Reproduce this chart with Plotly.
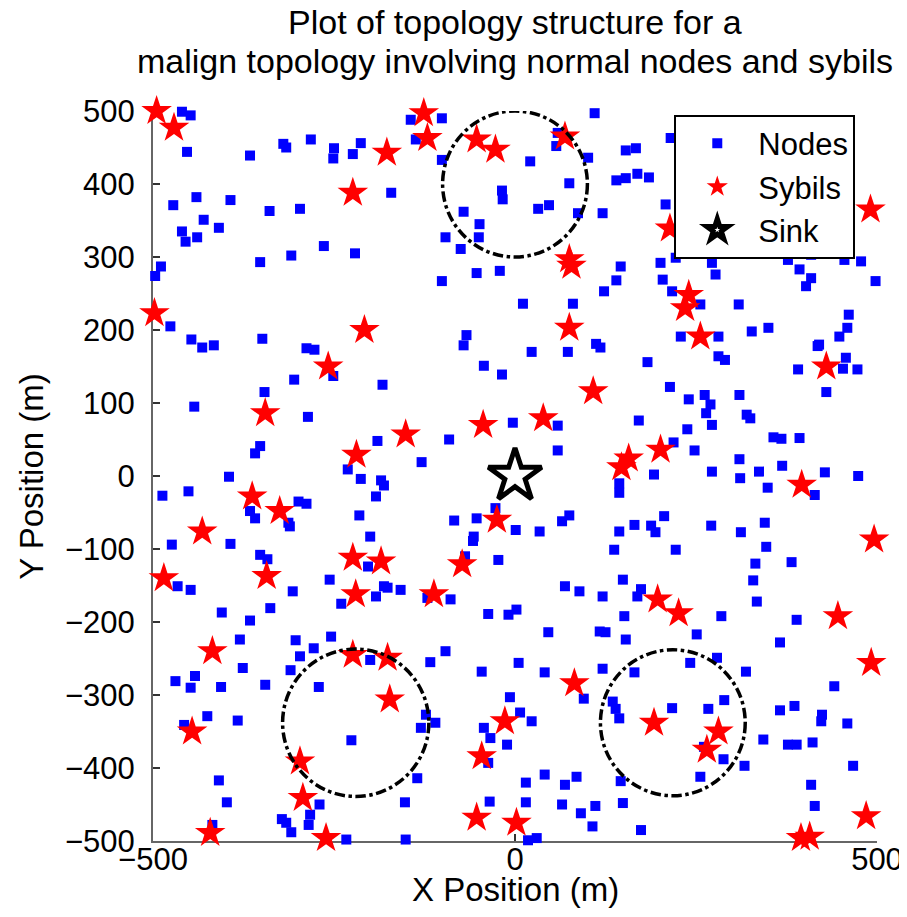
import plotly.graph_objects as go

# ---- data ----
node_x = [-460, -448, -453, -366, -320, -316, -282, -250, -251, -213, -224, -171, -472, -440, -393, -430,
          -460, -439, -455, -409, -339, -297, -352, -309, -264, -221, -489, -497, -476, -447, -432, -416,
          -349, -288, -277,
          -144, -101, -137, 110, 59, 57, 153, 21, 101, -101, 75, 140, 153, -18, -17, 32, 47, 87, 121, -71,
          -49, -50, -96, -75, -53, -21, -101, 146, 140, 123, 11, 80, -67, -71, 112, 23, 73, 118,
          215, 167, 169, 185, 208, 201, 222, 204, 217, 272, 277, 377, 393, 409, 402, 409, 455, 478, 498,
          256, 309, 229, 281, 327, 350, 420, 448, 459, 461,
          -305, -251, -183, -346, -443, -286, -352, -359, -190, -231, -213, -185, -181, -192, -395, -487,
          -451, -299, -288, -366, -359, -313, -311, -215, -200, -474, -393, -352, -342, -203, -256, -307,
          -466, -448, -181,
          -43, -18, -3, 59, -91, 59, -129, 144, 144, -27, -84, -53, -57, -58, 1, 34, 65, 75, 144, 137,
          -69, -23, 69, 89, -176, -158, 149,
          418, 457, 453, 473, 391, 430, 183, 281, 290, 214, 240, 262, 270, 264, 272, 310, 320, 325, 171,
          238, 219, 248, 357, 368, 393, 310, 272, 192, 311, 337, 369, 349, 428, 474, 414, 165, 188, 194,
          206, 271, 312, 345, 222, 347, 332, 382, 329, 174,
          -192, -240, -405, -338, -366, -380, -303, -254, -278, -297, -310, -376, -469, -442, -448, -406,
          -345, -271, -200, -425, -457, -383, -226, -409, -398, -270, -322, -316, -309, -283, -285, -418,
          -233,
          -89, -121, -37, -9, 2, 121, 46, 117, 125, 151, 153, -96, -117, -46, 5, 41, 121, 95, -7, 7, 23,
          -123, -110, -130, -43, -34, -11, -37, 135, 139, 144, -135, 41, 15, 69, 85, -152, -35, 15, 65,
          111, 91, 107, 146, 149, -151, 18, 30,
          169, 334, 285, 389, 251, 366, 242, 279, 165, 319, 441, 217, 267, 289, 366, 386, 424, 423, 459,
          343, 377, 389, 411, 288, 317, 256, 409, 414, 467, 174, 261]
node_y = [499, 494, 444, 439, 455, 450, 461, 449, 435, 456, 441, 388, 371, 382, 378, 351,
          335, 327, 321, 340, 363, 366, 293, 302, 315, 305, 287, 274, 205, 187, 176, 179,
          188, 175, 173,
          488, 490, 461, 497, 470, 452, 446, 431, 436, 433, 401, 405, 408, 391, 379, 366, 371, 360, 360, 362,
          345, 327, 327, 311, 278, 281, 267, 287, 268, 253, 236, 236, 193, 179, 181, 170, 170, 176,
          463, 449, 414, 409, 372, 292, 299, 269, 253, 292, 276, 296, 283, 271, 260, 303, 296, 294, 267,
          235, 235, 191, 191, 198, 203, 180, 191, 203, 221,
          132, 137, 125, 115, 95, 81, 41, 31, 48, 9, -4, -6, -13, -28, -1, -27,
          -21, -35, -38, -48, -58, -64, -69, -54, -83, -94, -93, -108, -114, -124, -142, -158,
          -151, -156, -151,
          151, 139, 73, 69, 50, 35, 19, -10, -23, -44, -61, -58, -83, -89, -74, -76, -62, -54, -76, -101,
          -110, -115, -151, -158, -153, -156, -142,
          178, 162, 147, 146, 146, 115, 156, 164, 159, 122, 105, 111, 98, 86, 70, 111, 84, 79, 76,
          64, 46, 35, 53, 51, 52, 23, 6, 2, -3, 6, 14, -16, 5, 0, -26, -67, -68, -77,
          -55, -68, -77, -64, -101, -97, -120, -118, -143, -155,
          -165, -175, -187, -181, -198, -224, -225, -220, -236, -247, -266, -263, -281, -274, -290, -289,
          -286, -289, -252, -329, -341, -335, -362, -417, -447, -450, -470, -475, -488, -464, -478, -478,
          -498,
          -169, -167, -189, -190, -183, -165, -214, -213, -214, -192, -224, -240, -255, -268, -256, -269, -264, -305, -303, -324, -336,
          -327, -338, -345, -345, -359, -368, -393, -309, -319, -332, -414, -409, -420, -423, -412, -447, -446, -447, -450,
          -452, -462, -480, -418, -448, -498, -499, -496,
          -165, -172, -192, -197, -217, -228, -256, -249, -269, -268, -288, -318, -319, -307, -321, -315, -327, -336, -339,
          -361, -368, -368, -365, -388, -397, -412, -423, -452, -397, -485, -371]

sybil_x = [-495, -471, -177, -224, -498, -208, -126, -121, -53, -27, 69, 75, 78, 75, 240, 235, 256, 491, 214,
           -258, -345, -219, -363, -325, -432, -224, -185, -485, -343, -220, 108, 39, -44, -151, -25, -73,
           -112, 147, 157, 430, 201, 396, 496, 197, 226, -418, -446, -224, -176, -173, -297, -293, -421,
           -261, -14, -46, -53, 2, 82, 446, 492, 192, 281, 265, 485, 395, 407]
sybil_y = [500, 477, 443, 388, 223, 200, 497, 463, 461, 447, 465, 297, 288, 203, 248, 230, 191, 365, 339,
           150, 86, 29, -28, -48, -76, -112, -117, -140, -137, -162, 116, 79, 70, 57, -60, -121,
           -162, 12, 24, 150, 36, -12, -87, -169, -188, -240, -350, -245, -249, -306, -391, -441, -489,
           -496, -336, -384, -468, -475, -284, -192, -256, -338, -350, -375, -466, -496, -494]

sink_x = [0]
sink_y = [0]

circle_cx = [0, -220, 218]
circle_cy = [400, -338, -338]
circle_r = [100, 101, 100]

x_ticks = [-500, 0, 500]
y_ticks = [-500, -400, -300, -200, -100, 0, 100, 200, 300, 400, 500]

title_lines = ["Plot of topology structure for a",
               "malign topology involving normal nodes and sybils"]
x_title = "X Position (m)"
y_title = "Y Position (m)"

FONT = "Liberation Sans, Arial, Helvetica, sans-serif"
PX_PER_UNIT_Y = 730.0
PX_PER_UNIT_X = 729.0

fig = go.Figure()
fig.add_trace(go.Scatter(x=node_x, y=node_y, mode="markers", name="Nodes",
                         marker=dict(symbol="square", size=10, color="#0000ff"),
                         cliponaxis=False))
fig.add_trace(go.Scatter(x=sybil_x, y=sybil_y, mode="markers", name="Sybils",
                         marker=dict(symbol="star", size=23, color="#ff0000"),
                         cliponaxis=False))
fig.add_trace(go.Scatter(x=sink_x, y=sink_y, mode="markers", name="Sink",
                         marker=dict(symbol="star", size=40, color="white",
                                     line=dict(color="black", width=5)),
                         cliponaxis=False))

shapes = []
for cx, cy, r in zip(circle_cx, circle_cy, circle_r):
    shapes.append(dict(type="circle", xref="x", yref="y",
                       x0=cx - r, x1=cx + r, y0=cy - r, y1=cy + r,
                       line=dict(color="black", width=3.5, dash="dashdot"),
                       layer="above"))

annotations = [
    dict(text=title_lines[0], xref="paper", yref="paper", x=0.5, y=1.0 + (103 - 14) / PX_PER_UNIT_Y,
         xanchor="center", yanchor="middle", showarrow=False, font=dict(size=34)),
    dict(text=title_lines[1], xref="paper", yref="paper", x=0.5, y=1.0 + (103 - 53) / PX_PER_UNIT_Y,
         xanchor="center", yanchor="middle", showarrow=False, font=dict(size=34)),
    dict(text=x_title, xref="paper", yref="paper", x=0.5, y=-(881 - 833) / PX_PER_UNIT_Y,
         xanchor="center", yanchor="middle", showarrow=False, font=dict(size=33)),
    dict(text=y_title, xref="paper", yref="paper", x=-(145 - 22) / PX_PER_UNIT_X, y=0.5,
         xanchor="center", yanchor="middle", showarrow=False, textangle=-90, font=dict(size=33)),
]

fig.update_layout(
    width=907, height=917,
    margin=dict(l=145, r=33, t=103, b=84),
    paper_bgcolor="white", plot_bgcolor="white",
    font=dict(family=FONT, size=32, color="black"),
    shapes=shapes,
    annotations=annotations,
    showlegend=True,
    legend=dict(x=0.72, y=0.995, xanchor="left", yanchor="top",
                bgcolor="white", bordercolor="black", borderwidth=2,
                font=dict(size=31, family=FONT), tracegroupgap=0,
                itemwidth=72),
)
fig.update_xaxes(range=[-500, 500], tickvals=x_ticks, ticks="inside", ticklen=7,
                 tickwidth=1.5, tickcolor="#333", showline=True, linecolor="#666", linewidth=2,
                 showgrid=False, zeroline=False, mirror=False, layer="below traces",
                 ticklabelstandoff=-10, tickfont=dict(size=31))
fig.update_yaxes(range=[-500, 500], tickvals=y_ticks, ticks="inside", ticklen=7,
                 tickwidth=1.5, tickcolor="#333", showline=True, linecolor="#666", linewidth=2,
                 showgrid=False, zeroline=False, mirror=False, layer="below traces",
                 ticklabelstandoff=10, tickfont=dict(size=31))

fig.write_html("out.html")
